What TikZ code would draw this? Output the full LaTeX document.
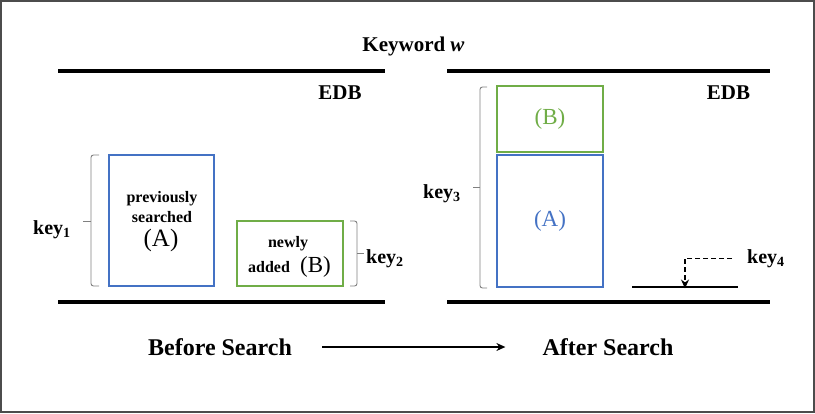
\documentclass[tikz,border=0pt]{standalone}
\usepackage{fontspec}
\setmainfont{Liberation Serif}
\usetikzlibrary{arrows.meta, calc}

\definecolor{boxblue}{HTML}{4472C4}
\definecolor{boxgreen}{HTML}{70AD47}

\tikzset{
	lbl/.style={font=\bfseries\fontsize{20}{24}\selectfont, inner sep=0},
	title/.style={font=\bfseries\fontsize{21}{25}\selectfont, inner sep=0},
	stage/.style={font=\bfseries\fontsize{24}{28}\selectfont, inner sep=0},
	smalltxt/.style={font=\bfseries\fontsize{16}{20}\selectfont, inner sep=0, anchor=base},
	bigtxt/.style={font=\fontsize{23}{26}\selectfont, inner sep=0},
	edbline/.style={line width=3.2pt},
	keybrace/.style={gray, line width=0.9pt, rounded corners=2.5pt},
	bluebox/.style={draw=boxblue, line width=2.2pt, inner sep=0},
	greenbox/.style={draw=boxgreen, line width=2.2pt, inner sep=0},
	tip/.style={-{Stealth[length=9pt, width=8pt]}}
}

\begin{document}
\begin{tikzpicture}[x=1pt, y=-1pt]
	\useasboundingbox (0,0) rectangle (815,413);
	\draw[gray!60!black, line width=2pt] (1,1) rectangle (813.5,412);

	\node[title] (kw) at (413.5,46) {Keyword \textit{w}};

	\draw[edbline] (58,71) -- (385,71);
	\draw[edbline] (447,71) -- (770,71);
	\draw[edbline] (58,302) -- (385,302);
	\draw[edbline] (447,302) -- (770,302);

	\node[title] (edbL) at (340,92.5) {EDB};
	\node[title] (edbR) at (728.5,92.5) {EDB};

	% before search
	\node[bluebox, minimum width=105, minimum height=131] (prevA) at (161.5,220.5) {};
	\node[smalltxt] (prevT1) at (162,202) {previously};
	\node[smalltxt] (prevT2) at (162,222) {searched};
	\node[bigtxt, font=\fontsize{25}{28}\selectfont] (prevT3) at (161,240) {(A)};

	\node[greenbox, minimum width=106, minimum height=65] (newB) at (290,253.5) {};
	\node[smalltxt] (newT1) at (288,247) {newly};
	\node[smalltxt, anchor=base west] (newT2) at (248,272) {added};
	\node[bigtxt, anchor=base west] (newT3) at (300,272) {(B)};

	\draw[keybrace] (99,155) -- (91,155) -- (91,286) -- (99,286);
	\draw[keybrace] (91,221) -- (83,221);
	\node[lbl, anchor=base west] (key1) at (33,234) {key\textsubscript{1}};

	\draw[keybrace] (350,221) -- (357,221) -- (357,286) -- (350,286);
	\draw[keybrace] (357,253) -- (364,253);
	\node[lbl, anchor=base west] (key2) at (366,263) {key\textsubscript{2}};

	% after search
	\node[greenbox, minimum width=106, minimum height=66, text=boxgreen,
		font=\fontsize{23}{26}\selectfont] (aftB) at (550,119) {(B)};
	\node[bluebox, minimum width=106, minimum height=132, text=boxblue,
		font=\fontsize{23}{26}\selectfont] (aftA) at (550,221) {(A)};

	\draw[keybrace] (487,87) -- (480,87) -- (480,288) -- (487,288);
	\draw[keybrace] (480,187) -- (473,187);
	\node[lbl, anchor=base west] (key3) at (423,198) {key\textsubscript{3}};

	\coordinate (flA) at (632,287);
	\coordinate (flB) at (738,287);
	\coordinate (drop) at (685,287);
	\draw[line width=2pt] (flA) -- (flB);
	\node[lbl, anchor=base west] (key4) at (747,263) {key\textsubscript{4}};
	\draw[dash pattern=on 5pt off 3pt, line width=1.2pt, tip] ([xshift=-15]key4.west) -| ([yshift=-1.5]drop);

	\node[stage] (before) at (220,347) {Before Search};
	\node[stage] (after) at (608,347) {After Search};
	\draw[line width=1.3pt, tip] ([xshift=30]before.east) -- ([xshift=-37]after.west);
\end{tikzpicture}
\end{document}
